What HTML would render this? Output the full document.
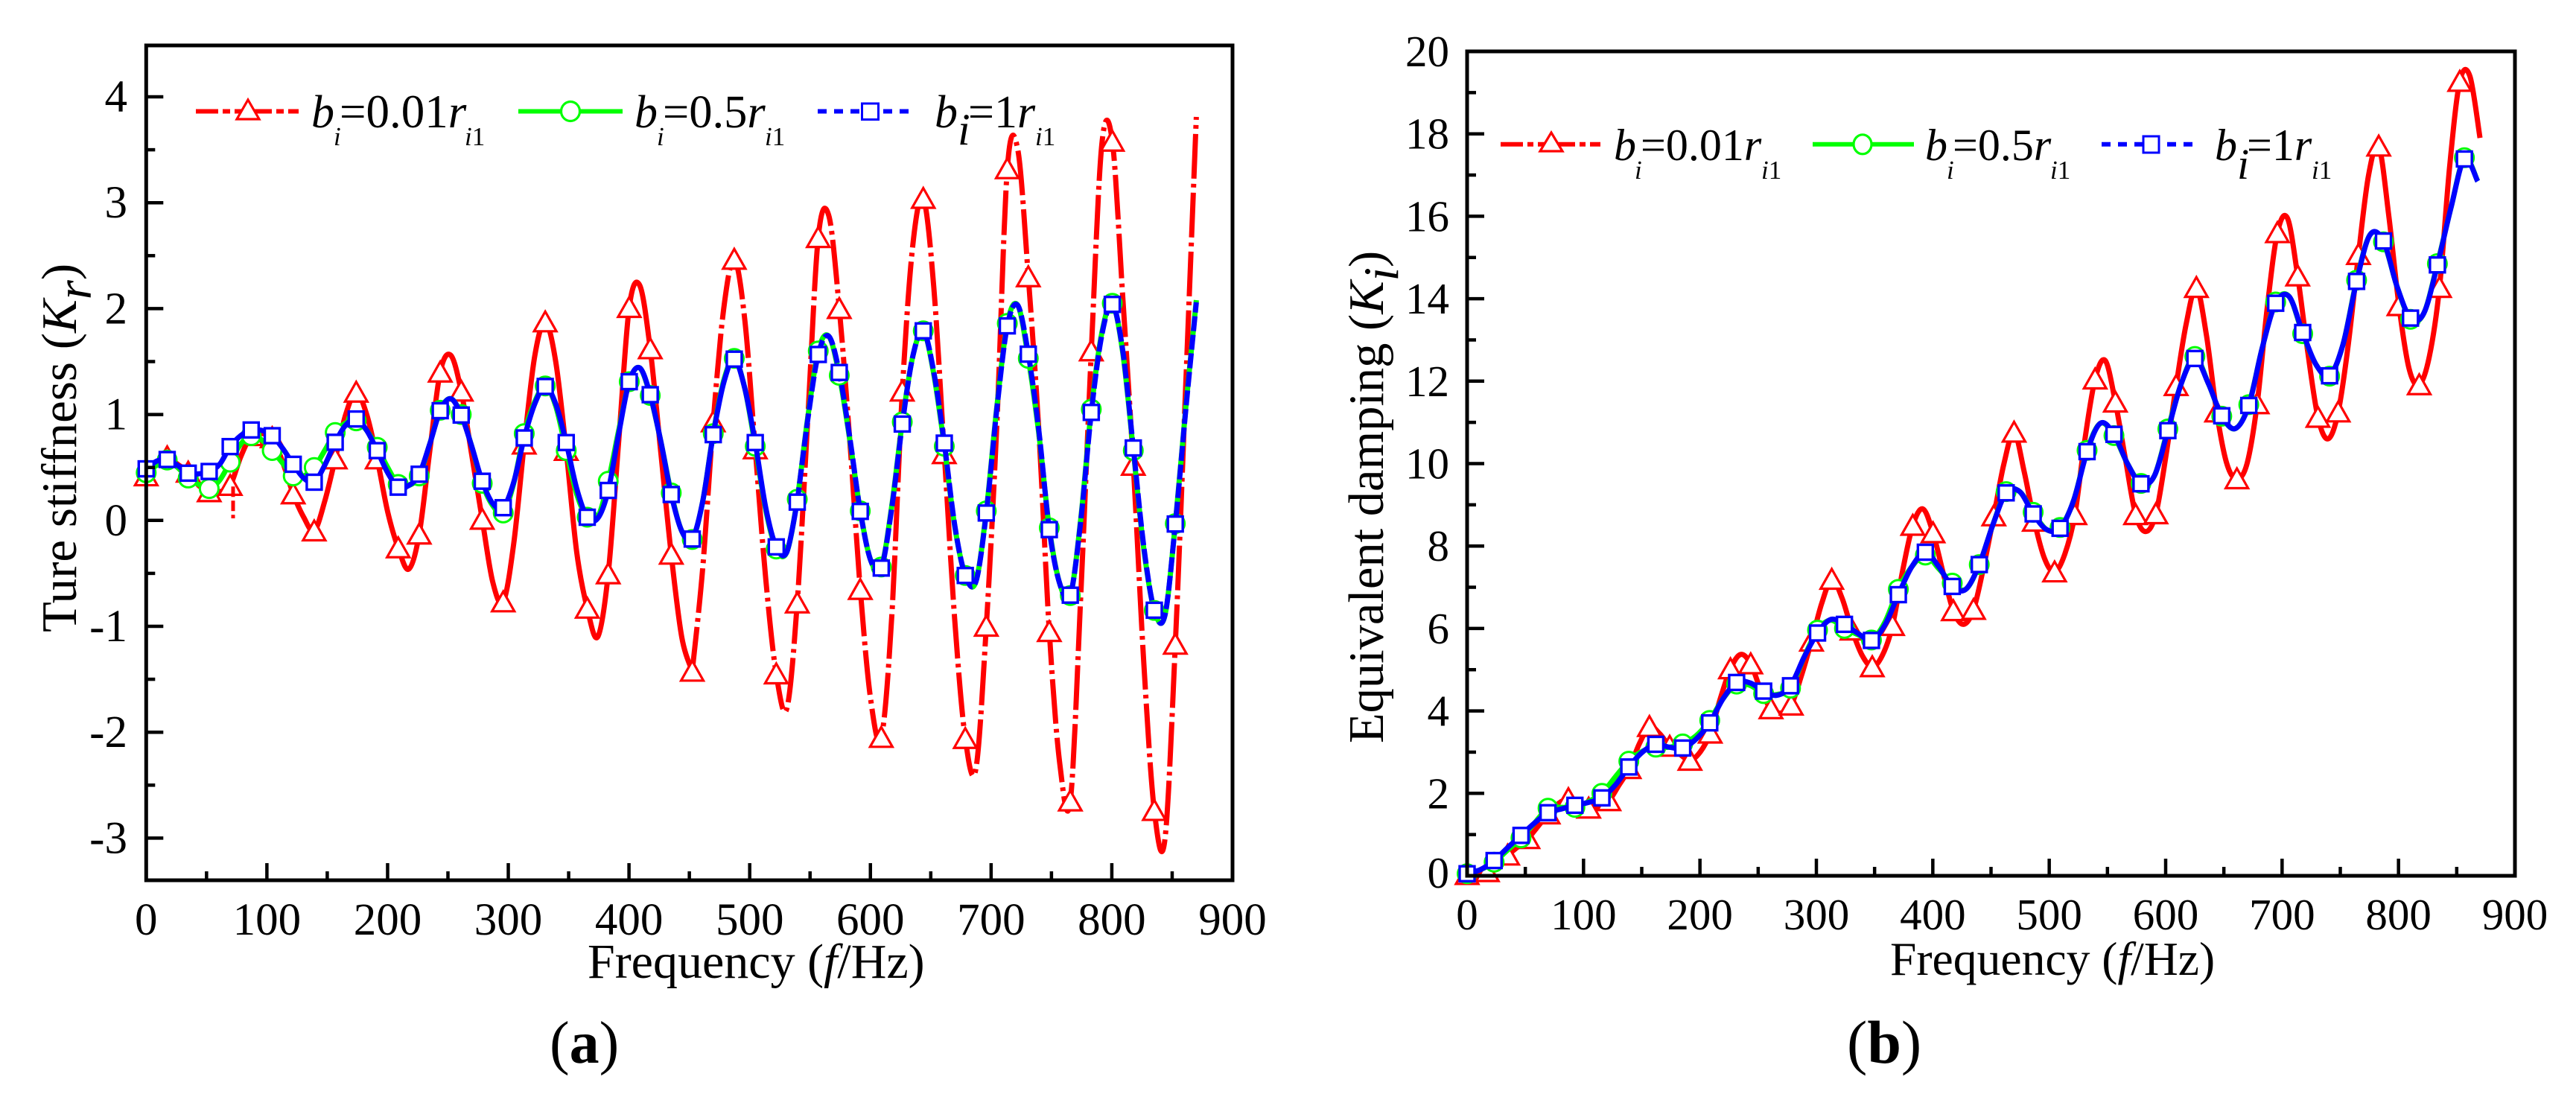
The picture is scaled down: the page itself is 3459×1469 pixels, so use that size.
<!DOCTYPE html>
<html lang="en">
<head>
<meta charset="utf-8">
<title>Ture stiffness and equivalent damping vs frequency</title>
<style>
html,body{margin:0;padding:0;background:#fff;}
svg{display:block;}
text{font-family:"Liberation Serif",serif;fill:#000;}
.it{font-style:italic;}
</style>
</head>
<body>
<svg id="figure" xmlns="http://www.w3.org/2000/svg" width="3459" height="1469" viewBox="0 0 3459 1469">
<rect width="3459" height="1469" fill="#fff"/>
<g id="panelA"></g>
<g id="panelB"></g>

<text transform="translate(102,849) rotate(-90)" font-size="67">Ture stiffness (<tspan class="it">K</tspan><tspan class="it" dy="20">r</tspan><tspan dy="-20">)</tspan></text>
<text x="789" y="1313" font-size="66">Frequency (<tspan class="it">f</tspan>/Hz)</text>
<text x="738" y="1427" font-size="80">(<tspan font-weight="bold">a</tspan>)</text>

<text transform="translate(1857,998) rotate(-90)" font-size="66.5">Equivalent damping (<tspan class="it">K</tspan><tspan class="it" dy="20">i</tspan><tspan dy="-20">)</tspan></text>
<text x="2538" y="1309" font-size="63.6">Frequency (<tspan class="it">f</tspan>/Hz)</text>
<text x="2480" y="1427" font-size="82">(<tspan font-weight="bold">b</tspan>)</text>

<g>
  <g>
    <line x1="263" y1="149.5" x2="401" y2="149.5" stroke="#f00" stroke-width="6" stroke-dasharray="30 6 10 6 50 6 10 6 30"/>
    <polygon points="333,134 348,160 318,160" fill="#fff" stroke="#f00" stroke-width="3.2"/>
    <text class="it" x="418" y="171" font-size="62">b</text>
    <text class="it" x="448" y="195" font-size="35">i</text>
    <text x="456" y="171" font-size="63">=0.01<tspan class="it">r</tspan></text>
    <text x="624" y="195" font-size="35"><tspan class="it">i</tspan>1</text>
  </g>
  <g>
    <line x1="696" y1="149.5" x2="836" y2="149.5" stroke="#0f0" stroke-width="6"/>
    <ellipse cx="766" cy="149.5" rx="12.5" ry="13" fill="#fff" stroke="#0f0" stroke-width="3.2"/>
    <text class="it" x="852" y="171" font-size="62">b</text>
    <text class="it" x="882" y="195" font-size="35">i</text>
    <text x="890" y="171" font-size="62.5">=0.5<tspan class="it">r</tspan></text>
    <text x="1027" y="195" font-size="35"><tspan class="it">i</tspan>1</text>
  </g>
  <g>
    <line x1="1098" y1="149.5" x2="1226" y2="149.5" stroke="#00f" stroke-width="6" stroke-dasharray="12 10"/>
    <rect x="1157.5" y="139" width="22" height="21.5" fill="#fff" stroke="#00f" stroke-width="3"/>
    <text class="it" x="1255" y="171" font-size="62">b</text>
    <text class="it" x="1286" y="194" font-size="60">i</text>
    <text x="1300" y="171" font-size="62">=1<tspan class="it">r</tspan></text>
    <text x="1390" y="195" font-size="35"><tspan class="it">i</tspan>1</text>
  </g>
</g>

<g>
  <g>
    <line x1="2015" y1="193.8" x2="2149" y2="193.8" stroke="#f00" stroke-width="6" stroke-dasharray="30 6 8 6 50 6 8 6 30"/>
    <polygon points="2083,178 2098,203 2068,203" fill="#fff" stroke="#f00" stroke-width="3.2"/>
    <text class="it" x="2167" y="215" font-size="60">b</text>
    <text class="it" x="2195" y="240" font-size="35">i</text>
    <text x="2203" y="215" font-size="60">=0.01<tspan class="it">r</tspan></text>
    <text x="2365" y="240" font-size="35"><tspan class="it">i</tspan>1</text>
  </g>
  <g>
    <line x1="2434" y1="193.8" x2="2570" y2="193.8" stroke="#0f0" stroke-width="6"/>
    <ellipse cx="2501" cy="193.8" rx="12" ry="13" fill="#fff" stroke="#0f0" stroke-width="3.2"/>
    <text class="it" x="2585" y="215" font-size="60">b</text>
    <text class="it" x="2614" y="240" font-size="35">i</text>
    <text x="2622" y="215" font-size="60">=0.5<tspan class="it">r</tspan></text>
    <text x="2753" y="240" font-size="35"><tspan class="it">i</tspan>1</text>
  </g>
  <g>
    <line x1="2822" y1="193.8" x2="2945" y2="193.8" stroke="#00f" stroke-width="6" stroke-dasharray="12 10"/>
    <rect x="2878" y="183" width="21" height="22" fill="#fff" stroke="#00f" stroke-width="3"/>
    <text class="it" x="2974" y="215" font-size="60">b</text>
    <text class="it" x="3004" y="240" font-size="58">i</text>
    <text x="3017" y="215" font-size="60">=1<tspan class="it">r</tspan></text>
    <text x="3104" y="240" font-size="35"><tspan class="it">i</tspan>1</text>
  </g>
</g>
</svg>

<script>
// ---------- Data: frequency grids ----------
const freqFine = [0,8.7,17.4,26.1,34.8,43.5,52.2,60.9,69.6,78.3,87,95.7,104.4,113.1,121.8,130.5,139.2,147.9,156.6,165.3,174,182.7,191.4,200.1,208.8,217.5,226.2,234.9,243.6,252.3,261,269.7,278.4,287.1,295.8,304.5,313.2,321.9,330.6,339.3,348,356.7,365.4,374.1,382.8,391.5,400.2,408.9,417.6,426.3,435,443.7,452.4,461.1,469.8,478.5,487.2,495.9,504.6,513.3,522,530.7,539.4,548.1,556.8,565.5,574.2,582.9,591.6,600.3,609,617.7,626.4,635.1,643.8,652.5,661.2,669.9,678.6,687.3,696,704.7,713.4,722.1,730.8,739.5,748.2,756.9,765.6,774.3,783,791.7,800.4,809.1,817.8,826.5,835.2,843.9,852.6,861.3,870];
const freqCoarse = [0,11.6,23.2,34.7,46.3,57.9,69.5,81,92.6,104.2,115.8,127.3,138.9,150.5,162.1,173.6,185.2,196.8,208.4,219.9,231.5,243.1,254.7,266.2,277.8,289.4,301,312.5,324.1,335.7,347.3,358.8,370.4,382,393.6,405.1,416.7,428.3,439.9,451.4,463,474.6,486.2,497.7,509.3,520.9,532.5,544,555.6,567.2,578.8,590.3,601.9,613.5,625.1,636.6,648.2,659.8,671.4,682.9,694.5,706.1,717.7,729.2,740.8,752.4,764,775.5,787.1,798.7,810.3,821.8,833.4,845,856.6,868];

// ---------- Data: panel (a) Ture stiffness ----------
const stiffnessRed = [
.42,.55,.6,.53,.455,.33,.27,.27,.33,.6,.8,.82,.78,.55,.25,.03,-.1,.18,.58,1.0,
1.21,1.0,.58,.08,-.26,-.46,-.13,.65,1.40,1.56,1.22,.62,.01,-.58,-.77,-.22,.72,1.55,1.874,1.5,
.66,-.3,-.83,-1.1,-.505,.75,2.01,2.22,1.62,.65,-.32,-1.1,-1.425,-.45,.93,2.0,2.465,1.9,.675,-.55,
-1.45,-1.78,-.78,.95,2.67,2.88,2.0,.75,-.653,-1.7,-2.05,-.9,1.22,2.6,3.04,2.2,.63,-.95,-2.06,-2.35,
-1.0,.9,3.32,3.5,2.3,.85,-1.05,-2.3,-2.65,-.7,1.6,3.55,3.58,2.1,.52,-1.35,-2.74,-3.02,-1.17,1.3,
3.81];
const stiffnessGreen = [
.45,.52,.57,.5,.40,.34,.30,.38,.55,.72,.80,.76,.66,.54,.42,.42,.50,.66,.83,.92,
.94,.85,.69,.5,.34,.33,.42,.72,1.04,1.15,1.0,.70,.35,.14,.07,.35,.82,1.12,1.27,1.08,
.66,.25,.03,.03,.37,.85,1.31,1.44,1.18,.75,.26,-.1,-.18,.18,.82,1.32,1.53,1.25,.70,.10,
-.27,-.30,.20,.97,1.60,1.74,1.37,.76,.09,-.38,-.44,.14,.93,1.55,1.79,1.38,.70,-.06,-.52,-.58,
.09,1.07,1.86,2.03,1.53,.82,-.07,-.60,-.71,.02,1.05,1.77,2.05,1.58,.66,-.27,-.85,-.90,-.03,1.07,
2.08];
const stiffnessBlue = [
.487,.56,.575,.52,.446,.44,.462,.53,.697,.80,.854,.85,.80,.68,.53,.40,.361,.52,.738,.90,
.958,.85,.659,.45,.314,.33,.436,.72,1.036,1.15,.995,.70,.37,.16,.12,.36,.779,1.10,1.265,1.10,
.735,.30,.03,.02,.283,.82,1.31,1.44,1.187,.75,.245,-.1,-.176,.18,.81,1.30,1.523,1.25,.735,.12,
-.25,-.30,.173,.95,1.567,1.74,1.397,.78,.085,-.38,-.45,.12,.91,1.55,1.79,1.40,.73,-.05,-.52,-.58,
.07,1.05,1.837,2.03,1.57,.85,-.087,-.60,-.706,.0,1.02,1.75,2.04,1.60,.684,-.25,-.848,-.90,-.034,1.05,
2.06];
const stiffnessStrayFreq = [72,72];
const stiffnessStrayVal = [.32,.02];
const stiffnessYMajor = [4,3,2,1,0,-1,-2,-3];
const stiffnessYMinor = [3.5,2.5,1.5,.5,-.5,-1.5,-2.5];

// ---------- Data: panel (b) Equivalent damping ----------
const dampingRed = [
.03,.05,.1,.3,.5,.7,.9,1.2,1.5,1.75,1.87,1.78,1.64,1.68,1.82,2.2,2.6,3.2,3.62,3.45,
3.14,2.95,2.8,3.0,3.46,4.3,5.02,5.37,5.14,4.5,4.05,3.95,4.14,4.85,5.69,6.6,7.19,6.75,5.96,5.35,
5.07,5.35,6.07,7.4,8.5,8.9,8.32,7.35,6.43,6.1,6.46,7.5,8.73,10.0,10.76,9.8,8.6,7.7,7.37,7.8,
8.76,10.6,12.05,12.5,11.49,10.1,8.76,8.35,8.78,10.2,11.89,13.4,14.27,13.1,11.25,10.0,9.63,10.0,11.45,13.8,
15.6,15.95,14.55,12.7,11.12,10.6,11.25,12.9,15.07,17.0,17.7,16.0,13.83,12.3,11.91,12.6,14.27,17.2,19.27,19.4,
17.9];
const dampingGreen = [
.05,.15,.33,.62,.92,1.28,1.64,1.66,1.66,1.8,2.0,2.4,2.78,3.02,3.12,3.12,3.2,3.4,3.77,4.3,
4.65,4.62,4.42,4.4,4.55,5.3,5.96,6.2,6.0,5.85,5.72,6.15,6.95,7.5,7.78,7.45,7.1,6.95,7.55,8.5,
9.32,9.32,8.82,8.4,8.45,9.1,10.32,10.98,10.68,10.0,9.52,9.7,10.84,11.95,12.6,11.95,11.15,10.85,11.43,12.8,
13.92,14.05,13.15,12.4,12.12,12.9,14.45,15.55,15.38,14.3,13.5,13.65,14.85,16.2,17.42,16.85];
const dampingBlue = [
.05,.15,.37,.68,.98,1.28,1.53,1.62,1.71,1.78,1.89,2.2,2.64,3.0,3.19,3.12,3.10,3.32,3.71,4.3,
4.69,4.68,4.48,4.38,4.61,5.3,5.89,6.22,6.10,5.88,5.71,6.08,6.82,7.5,7.85,7.5,7.02,6.95,7.55,8.5,
9.29,9.32,8.78,8.4,8.43,9.1,10.29,10.98,10.71,10.0,9.51,9.7,10.80,11.95,12.55,11.95,11.16,10.85,11.41,12.8,
13.89,14.05,13.18,12.4,12.13,12.9,14.42,15.55,15.4,14.3,13.53,13.65,14.82,16.2,17.39,16.85];
const dampingYMajor = [20,18,16,14,12,10,8,6,4,2,0];
const dampingYMinor = [19,17,15,13,11,9,7,5,3,1];

// ---------- Shared x tick labels ----------
const xMajorTicks = [0,100,200,300,400,500,600,700,800,900];
const xMinorTicks = [50,150,250,350,450,550,650,750,850];

const NS = 'http://www.w3.org/2000/svg';
function make(tag, attrs, parent){
  const e = document.createElementNS(NS, tag);
  for (const k in attrs) e.setAttribute(k, attrs[k]);
  parent.appendChild(e);
  return e;
}

function linearScale(d0, d1, r0, r1){
  return function(v){ return r0 + (v - d0) * (r1 - r0) / (d1 - d0); };
}

function smoothPath(pts){
  if (pts.length < 2) return '';
  let d = 'M' + pts[0][0].toFixed(1) + ' ' + pts[0][1].toFixed(1);
  for (let i = 0; i < pts.length - 1; i++){
    const p0 = pts[Math.max(i - 1, 0)], p1 = pts[i], p2 = pts[i + 1], p3 = pts[Math.min(i + 2, pts.length - 1)];
    const c1x = p1[0] + (p2[0] - p0[0]) / 6, c1y = p1[1] + (p2[1] - p0[1]) / 6;
    const c2x = p2[0] - (p3[0] - p1[0]) / 6, c2y = p2[1] - (p3[1] - p1[1]) / 6;
    d += 'C' + c1x.toFixed(1) + ' ' + c1y.toFixed(1) + ' ' + c2x.toFixed(1) + ' ' + c2y.toFixed(1) + ' ' + p2[0].toFixed(1) + ' ' + p2[1].toFixed(1);
  }
  return d;
}

function drawSeries(g, fs, vs, x, y, opt){
  const pts = fs.map(function(f, i){ return [x(f), y(vs[i])]; });
  const split = opt.splitAt === undefined ? pts.length - 1 : opt.splitAt;

  const solid = make('path', {d: smoothPath(pts.slice(0, split + 1)), fill: 'none', stroke: opt.color, 'stroke-width': opt.width, 'stroke-linejoin': 'round'}, g);
  
  

  if (split < pts.length - 1){
    const dashed = make('path', {d: smoothPath(pts.slice(split)), fill: 'none', stroke: opt.color, 'stroke-width': opt.width, 'stroke-dasharray': opt.dash}, g);
    
    
  }

  pts.forEach(function(p, i){
    if (i % 2 !== 0 || i > opt.lastMarker) return;
    let m;
    if (opt.shape === 'triangle'){
      m = make('polygon', {points: p[0] + ',' + (p[1] - 14) + ' ' + (p[0] + 15) + ',' + (p[1] + 12.5) + ' ' + (p[0] - 15) + ',' + (p[1] + 12.5), fill: '#fff', stroke: opt.color, 'stroke-width': 3.2}, g);
    } else if (opt.shape === 'circle'){
      m = make('circle', {cx: p[0], cy: p[1], r: 12.5, fill: '#fff', stroke: opt.color, 'stroke-width': 3}, g);
    } else {
      m = make('rect', {x: p[0] - 10, y: p[1] - 10, width: 20, height: 20, fill: '#fff', stroke: opt.color, 'stroke-width': 3.4}, g);
    }
    
    
  });
}

function drawAxes(g, c, x, y, yMajor, yMinor){
  const frame = make('rect', {x: c.left, y: c.top, width: c.right - c.left, height: c.bottom - c.top, fill: 'none', stroke: '#000', 'stroke-width': 5}, g);
  
  

  xMajorTicks.forEach(function(t){
    const tick = make('line', {x1: x(t), x2: x(t), y1: c.bottom, y2: c.bottom - 23, stroke: '#000', 'stroke-width': 4.5}, g);
    
    
    const label = make('text', {x: x(t), y: c.xLabelY, 'font-size': c.tickFont, 'text-anchor': 'middle'}, g);
    label.textContent = String(t);
    
    
  });
  xMinorTicks.forEach(function(t){
    const tick = make('line', {x1: x(t), x2: x(t), y1: c.bottom, y2: c.bottom - 12, stroke: '#000', 'stroke-width': 4.5}, g);
    
    
  });
  yMajor.forEach(function(t){
    const tick = make('line', {x1: c.left, x2: c.left + 23, y1: y(t), y2: y(t), stroke: '#000', 'stroke-width': 4.5}, g);
    
    
    const label = make('text', {x: c.yLabelX, y: y(t) + (t === 0 && c.zeroLift ? 19 - c.zeroLift : 20), 'font-size': c.tickFont, 'text-anchor': 'end'}, g);
    label.textContent = String(t);
    
    
  });
  yMinor.forEach(function(t){
    const tick = make('line', {x1: c.left, x2: c.left + 12, y1: y(t), y2: y(t), stroke: '#000', 'stroke-width': 4.5}, g);
    
    
  });
}

// Panel (a)
(function(){
  const g = document.getElementById('panelA');
  const c = {left: 196.3, right: 1655, top: 61, bottom: 1182, xLabelY: 1255, yLabelX: 171, tickFont: 61};
  const x = linearScale(0, 900, 196.3, 1655);
  const y = linearScale(0, 4, 698.8, 130);
  drawSeries(g, freqFine, stiffnessRed, x, y, {color: '#f00', width: 7, shape: 'triangle', lastMarker: 98, splitAt: 52, dash: '60 7 5 7'});
  const stray = make('line', {x1: x(stiffnessStrayFreq[0]), x2: x(stiffnessStrayFreq[1]), y1: y(stiffnessStrayVal[0]), y2: y(stiffnessStrayVal[1]), stroke: '#f00', 'stroke-width': 5, 'stroke-dasharray': '14 5'}, g);
  
  
  drawSeries(g, freqFine, stiffnessGreen, x, y, {color: '#0f0', width: 7, shape: 'circle', lastMarker: 98});
  drawSeries(g, freqFine, stiffnessBlue, x, y, {color: '#00f', width: 7, shape: 'square', lastMarker: 98, splitAt: 62, dash: '20 5'});
  drawAxes(g, c, x, y, stiffnessYMajor, stiffnessYMinor);
})();

// Panel (b)
(function(){
  const g = document.getElementById('panelB');
  const c = {left: 1970, right: 3377, top: 69, bottom: 1176, xLabelY: 1248, yLabelX: 1946, tickFont: 59, zeroLift: 3};
  const x = linearScale(0, 900, 1970, 3377);
  const y = linearScale(0, 20, 1176, 69);
  drawSeries(g, freqFine, dampingRed, x, y, {color: '#f00', width: 7, shape: 'triangle', lastMarker: 98});
  drawSeries(g, freqCoarse, dampingGreen, x, y, {color: '#0f0', width: 7, shape: 'circle', lastMarker: 74});
  drawSeries(g, freqCoarse, dampingBlue, x, y, {color: '#00f', width: 7, shape: 'square', lastMarker: 74});
  drawAxes(g, c, x, y, dampingYMajor, dampingYMinor);
})();
</script>
</body>
</html>
